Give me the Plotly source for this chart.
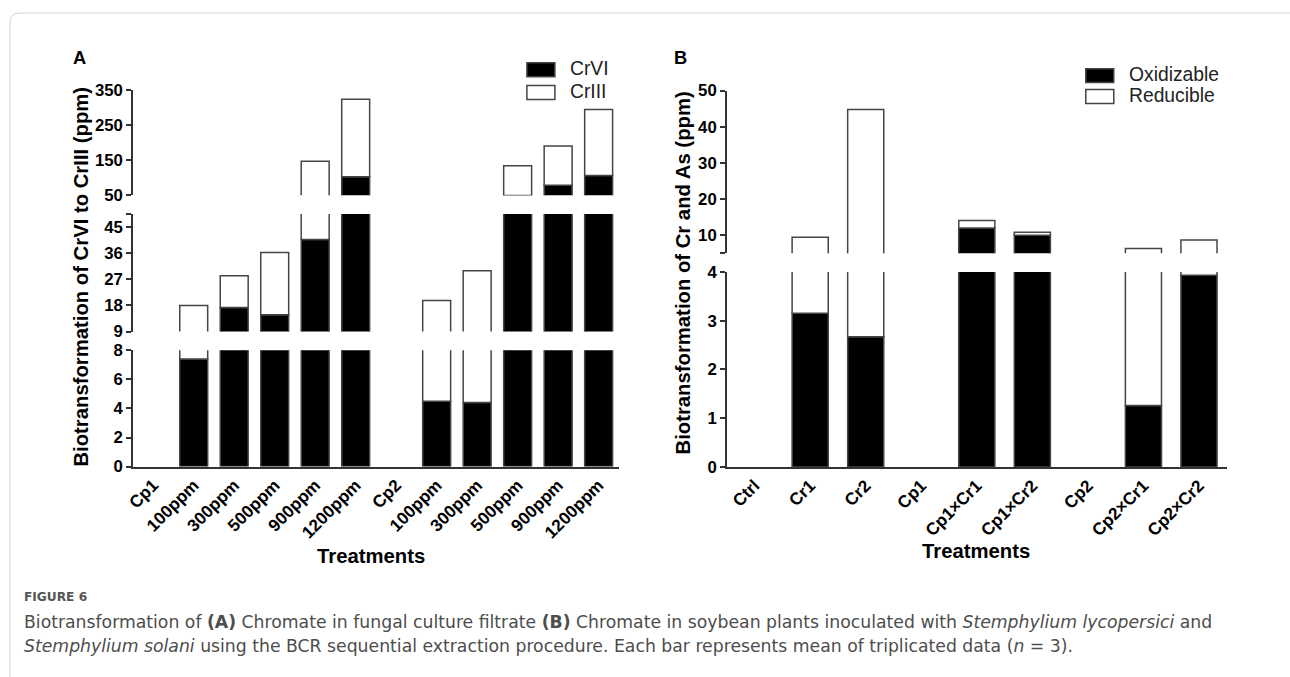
import plotly.graph_objects as go

# The viewer shows the page (with its 8px body margin) slightly scaled into
# 1290x677, so target pixel positions are mapped back into figure coordinates.
W, H = 1290, 677
OFF = 8
SX, SY = 0.994, 0.977
def px(x): return ((x - OFF) / SX) / W
def py(y): return 1 - ((y - OFF) / SY) / H
def fs(s): return round(s / 0.985, 2)

# ---------------- Data ----------------
cats_a = ["Cp1", "100ppm", "300ppm", "500ppm", "900ppm", "1200ppm",
          "Cp2", "100ppm ", "300ppm ", "500ppm ", "900ppm ", "1200ppm "]
tick_a = ["Cp1", "100ppm", "300ppm", "500ppm", "900ppm", "1200ppm",
          "Cp2", "100ppm", "300ppm", "500ppm", "900ppm", "1200ppm"]
crvi = [0, 7.4, 17.3, 14.8, 40.6, 102.7, 0, 4.5, 4.4, 49.6, 79, 106.7]
crtotal = [0, 18.0, 28.2, 36.2, 147, 323, 0, 19.7, 29.9, 134, 190, 294]
criii = [t - v for t, v in zip(crtotal, crvi)]

cats_b = ["Ctrl", "Cr1", "Cr2", "Cp1", "Cp1×Cr1", "Cp1×Cr2", "Cp2", "Cp2×Cr1", "Cp2×Cr2"]
oxid = [0, 3.15, 2.67, 0, 12.0, 10.0, 0, 1.26, 3.93]
btotal = [0, 9.45, 44.8, 0, 14.1, 10.8, 0, 6.35, 8.7]
redu = [t - o for t, o in zip(btotal, oxid)]

# ---------------- Layout geometry ----------------
segA = [  # (axis name, range, pixel bottom, pixel top, tickvals, ticktext)
    ("y", [0, 8], 468, 351, [0, 2, 4, 6, 8], ["0", "2", "4", "6", "8"]),
    ("y2", [9, 49.4], 332.3, 214, [9, 18, 27, 36, 45, 49.4], ["9", "18", "27", "36", "45", ""]),
    ("y3", [50, 350], 195.3, 89.3, [50, 150, 250, 350], ["50", "150", "250", "350"]),
]
segB = [
    ("y4", [0, 4], 468.3, 272.3, [0, 1, 2, 3, 4], ["0", "1", "2", "3", "4"]),
    ("y5", [5, 50], 253.6, 90, [5, 10, 20, 30, 40, 50], ["", "10", "20", "30", "40", "50"]),
]

AXC = "#333333"
BARLINE = "#454545"
FONT = "Liberation Sans, Arial, sans-serif"

fig = go.Figure()

def add_panel(cats, lower, upper, names, xaxis, segs, width):
    lw_low = [0 if v == 0 else 1.5 for v in lower]
    lw_up = [0 if v == 0 else 1.5 for v in upper]
    for i, (yname, rng, *_rest) in enumerate(segs):
        fig.add_trace(go.Bar(
            x=cats, y=lower, base=[0] * len(cats), name=names[0],
            xaxis=xaxis, yaxis=yname, width=width,
            marker=dict(color="black", line=dict(color=BARLINE, width=lw_low)),
            showlegend=False, hoverinfo="skip"))
        fig.add_trace(go.Bar(
            x=cats, y=upper, base=lower, name=names[1],
            xaxis=xaxis, yaxis=yname, width=width,
            marker=dict(color="white", line=dict(color=BARLINE, width=lw_up)),
            showlegend=False, hoverinfo="skip"))

add_panel(cats_a, crvi, criii, ["CrVI", "CrIII"], "x", segA, 0.69)
add_panel(cats_b, oxid, redu, ["Oxidizable", "Reducible"], "x2", segB, 0.65)

layout = dict(
    width=W, height=H, margin=dict(l=0, r=0, t=0, b=0),
    paper_bgcolor="white", plot_bgcolor="rgba(0,0,0,0)",
    barmode="overlay", font=dict(family=FONT, color="black"),
    showlegend=False,
)

xcommon = dict(showline=True, linecolor=AXC, linewidth=1.5, ticks="", showgrid=False,
               zeroline=False, tickangle=-45,
               tickfont=dict(family=FONT, size=fs(17), color="black", weight="bold"))
layout["xaxis"] = dict(domain=[px(133), px(619)], anchor="y", range=[-0.5, 11.5],
                       tickvals=cats_a, ticktext=tick_a, **xcommon)
layout["xaxis2"] = dict(domain=[px(727), px(1227)], anchor="y4", range=[-0.5, 8.5],
                        **xcommon)

def yaxis_def(seg, xanchor):
    name, rng, ybot, ytop, tv, tt = seg
    return dict(domain=[py(ybot), py(ytop)], range=rng, anchor=xanchor,
                showline=True, linecolor=AXC, linewidth=1.5,
                ticks="outside", ticklen=5, tickwidth=1.5, tickcolor=AXC,
                tickvals=tv, ticktext=tt, showgrid=False, zeroline=False,
                tickfont=dict(family=FONT, size=fs(16.5), color="black", weight="bold"))

for seg in segA:
    key = "yaxis" if seg[0] == "y" else "yaxis" + seg[0][1:]
    layout[key] = yaxis_def(seg, "x")
for seg in segB:
    key = "yaxis" + seg[0][1:]
    layout[key] = yaxis_def(seg, "x2")

fig.update_layout(**layout)

ann = []
def A(text, x, y, size, xanchor="center", yanchor="middle", angle=0, color="black",
      family=FONT, weight="normal"):
    ann.append(dict(text=text, x=px(x), y=py(y), xref="paper", yref="paper",
                    showarrow=False, xanchor=xanchor, yanchor=yanchor, textangle=angle,
                    font=dict(family=family, size=fs(size), color=color, weight=weight)))

# Legends (boxes + labels)
shapes = []
def legend_item(x0, yc, fill, label):
    shapes.append(dict(type="rect", xref="paper", yref="paper",
                       x0=px(x0), x1=px(x0 + 28), y0=py(yc + 7), y1=py(yc - 7),
                       fillcolor=fill, line=dict(color=BARLINE, width=1.5)))
    A(label, x0 + 41, yc - 1, 19, xanchor="left", color="#222")

legend_item(527, 69, "black", "CrVI")
legend_item(527, 92, "white", "CrIII")
legend_item(1086, 75, "black", "Oxidizable")
legend_item(1086, 96, "white", "Reducible")

A("A", 71, 56.5, 18, xanchor="left", weight="bold")
A("B", 672, 56.5, 18, xanchor="left", weight="bold")
A("Biotransformation of CrVI to CrIII (ppm)", 81, 277, 20, angle=-90, weight="bold")
A("Biotransformation of Cr and As (ppm)", 683, 273, 20, angle=-90, weight="bold")
A("Treatments", 371, 558, 20, weight="bold")
A("Treatments", 976, 553, 20, weight="bold")
A("FIGURE 6", 22, 599, 12, xanchor="left", color="#555", family="DejaVu Sans", weight="bold")
A("Biotransformation of <b>(A)</b> Chromate in fungal culture filtrate <b>(B)</b> Chromate in soybean plants inoculated with <i>Stemphylium lycopersici</i> and",
  22, 624, 17, xanchor="left", color="#4d4d4d", family="DejaVu Sans")
A("<i>Stemphylium solani</i> using the BCR sequential extraction procedure. Each bar represents mean of triplicated data (<i>n</i> = 3).",
  22, 648, 17, xanchor="left", color="#4d4d4d", family="DejaVu Sans")

# light frame around the figure
shapes.append(dict(type="path", xref="paper", yref="paper",
                   path=f"M {px(10)},{py(700)} L {px(10)},{py(22)} Q {px(10)},{py(12)} {px(20)},{py(12)} L {px(1320)},{py(12)}",
                   line=dict(color="#d4d4d4", width=1)))

fig.update_layout(annotations=ann, shapes=shapes)

fig.write_html("out.html")
